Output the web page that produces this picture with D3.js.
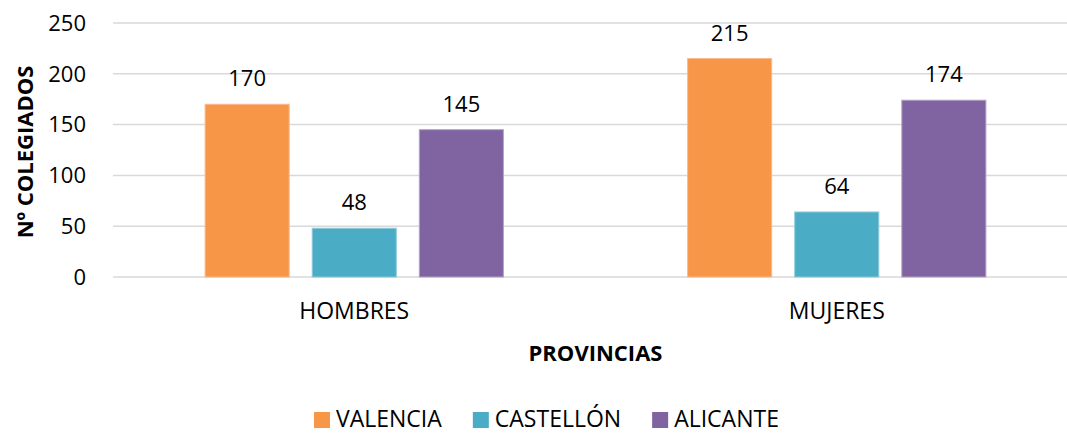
<!DOCTYPE html>
<html>
<head>
<meta charset="utf-8">
<script src="https://cdn.jsdelivr.net/npm/d3@7"></script>
<style>
  body { margin: 0; background: #fff; }
  svg { display: block; font-family: "Open Sans", sans-serif; }
  .grid line { stroke: #d9d9d9; stroke-width: 1.5; }
  .tick-label { font-size: 22px; fill: #000; }
  .cat-label { font-size: 23px; fill: #000; }
  .bar-label { font-size: 22px; fill: #000; }
  .axis-title { font-size: 22px; font-weight: bold; fill: #000; }
  .legend-label { font-size: 23px; fill: #000; }
</style>
</head>
<body>
<svg id="chart"></svg>
<script>
const categories = ['HOMBRES', 'MUJERES'];
const seriesNames = ['VALENCIA', 'CASTELLÓN', 'ALICANTE'];
const seriesColors = ['#f79646', '#4bacc6', '#8064a2'];
const seriesStroke = ['#fbb98a', '#8fcadb', '#b3a2c8'];
const valencia = [170, 215];
const castellon = [48, 64];
const alicante = [145, 174];
const yTicks = [0, 50, 100, 150, 200, 250];

const width = 1067;
const height = 434;
const plotLeft = 113;
const plotRight = 1078;
const plotTop = 23;
const plotBottom = 277;

const svg = d3.select('#chart')
  .attr('width', width)
  .attr('height', height);

const series = [valencia, castellon, alicante];
const rows = categories.map((c, i) => ({
  cat: c,
  values: series.map((s, j) => ({ name: seriesNames[j], idx: j, value: s[i] }))
}));

const x0 = d3.scaleBand()
  .domain(categories)
  .range([plotLeft, plotRight])
  .padding(0);

const x1 = d3.scaleBand()
  .domain(seriesNames)
  .range([0, x0.bandwidth()])
  .paddingInner(0.215)
  .paddingOuter(0.86);

const y = d3.scaleLinear()
  .domain([0, 250])
  .range([plotBottom, plotTop]);

// gridlines
svg.append('g')
  .attr('class', 'grid')
  .selectAll('line')
  .data(yTicks)
  .enter()
    .append('line')
    .attr('x1', plotLeft)
    .attr('x2', plotRight)
    .attr('y1', d => y(d))
    .attr('y2', d => y(d));

svg.append('g')
  .selectAll('text')
  .data(yTicks)
  .enter()
    .append('text')
    .attr('class', 'tick-label')
    .attr('x', 86)
    .attr('y', d => y(d))
    .attr('dy', '0.35em')
    .attr('text-anchor', 'end')
    .text(d => d);

// bars
const groups = svg.append('g')
  .selectAll('g')
  .data(rows)
  .enter()
    .append('g')
    .attr('transform', d => `translate(${x0(d.cat)},0)`);

groups.selectAll('rect')
  .data(d => d.values)
  .enter()
    .append('rect')
    .attr('x', d => x1(d.name))
    .attr('y', d => y(d.value))
    .attr('width', x1.bandwidth())
    .attr('height', d => y(0) - y(d.value))
    .attr('fill', d => seriesColors[d.idx])
    .attr('stroke', d => seriesStroke[d.idx])
    .attr('stroke-width', 1);

groups.selectAll('text')
  .data(d => d.values)
  .enter()
    .append('text')
    .attr('class', 'bar-label')
    .attr('x', d => x1(d.name) + x1.bandwidth() / 2)
    .attr('y', d => y(d.value) - 18)
    .attr('text-anchor', 'middle')
    .text(d => d.value);

// category labels
svg.append('g')
  .selectAll('text')
  .data(categories)
  .enter()
    .append('text')
    .attr('class', 'cat-label')
    .attr('x', d => x0(d) + x0.bandwidth() / 2)
    .attr('y', 319)
    .attr('text-anchor', 'middle')
    .text(d => d);

// axis titles
svg.append('text')
  .attr('class', 'axis-title')
  .attr('x', (plotLeft + plotRight) / 2)
  .attr('y', 361)
  .attr('text-anchor', 'middle')
  .text('PROVINCIAS');

svg.append('text')
  .attr('class', 'axis-title')
  .attr('transform', 'translate(33,152) rotate(-90)')
  .attr('text-anchor', 'middle')
  .text('Nº COLEGIADOS');

// legend
const legend = svg.append('g');
let lx = 314;
seriesNames.forEach((name, i) => {
  legend.append('rect')
    .attr('x', lx)
    .attr('y', 412)
    .attr('width', 16)
    .attr('height', 16)
    .attr('fill', seriesColors[i]);
  const t = legend.append('text')
    .attr('class', 'legend-label')
    .attr('x', lx + 22)
    .attr('y', 427)
    .text(name);
  lx += 22 + t.node().getComputedTextLength() + 31;
});
</script>
</body>
</html>
